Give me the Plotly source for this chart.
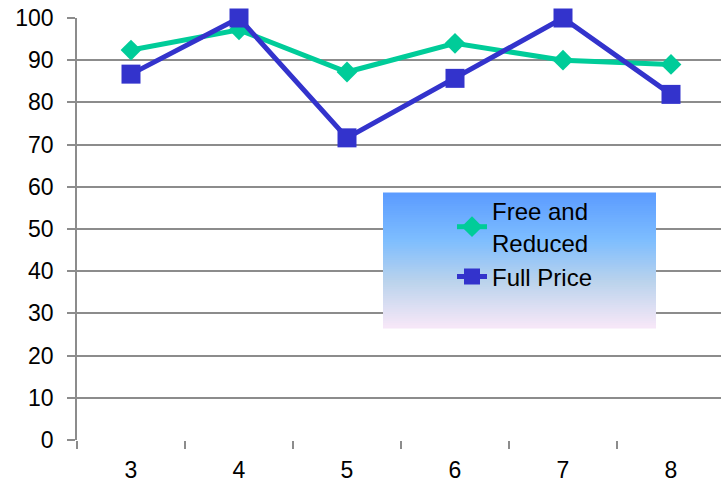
import plotly.graph_objects as go

grades = ["3", "4", "5", "6", "7", "8"]
free_reduced = [92.4, 97.2, 87.2, 94.0, 90.0, 89.0]
full_price = [86.7, 100.0, 71.6, 85.7, 100.0, 81.9]
y_ticks = [0, 10, 20, 30, 40, 50, 60, 70, 80, 90, 100]

FONT = "Liberation Sans, Arial, sans-serif"
GRID = "#8c8c8c"

fig = go.Figure()
fig.add_trace(go.Scatter(
    x=grades, y=free_reduced, name="Free and<br>Reduced", mode="lines+markers",
    line=dict(color="#00CC99", width=5), cliponaxis=False,
    marker=dict(symbol="diamond", size=16, color="#00CC99"),
))
fig.add_trace(go.Scatter(
    x=grades, y=full_price, name="Full Price", mode="lines+markers",
    line=dict(color="#3333CC", width=5), cliponaxis=False,
    marker=dict(symbol="square", size=19, color="#3333CC"),
))

# gradient legend background (stacked bands)
stops = [(0.0, (91, 155, 255)), (0.35, (125, 189, 255)), (0.65, (184, 210, 236)), (1.0, (248, 232, 248))]
def col(t):
    for (t0, c0), (t1, c1) in zip(stops[:-1], stops[1:]):
        if t0 <= t <= t1:
            f = (t - t0) / (t1 - t0) if t1 > t0 else 0
            return "rgb(%d,%d,%d)" % tuple(round(a + (b - a) * f) for a, b in zip(c0, c1))
    return "rgb(248,232,248)"

lx0, lx1 = (383 - 77) / 644, (656 - 77) / 644
ly_top, ly_bot = (440 - 193) / 422, (440 - 328) / 422
n = 60
shapes = []
for i in range(n):
    t = (i + 0.5) / n
    y1 = ly_top - (ly_top - ly_bot) * i / n
    y0 = ly_top - (ly_top - ly_bot) * (i + 1) / n
    shapes.append(dict(type="rect", xref="paper", yref="paper", x0=lx0, x1=lx1,
                       y0=y0 - 0.001, y1=y1 + 0.001, fillcolor=col(t), line=dict(width=0),
                       layer="above"))

fig.update_layout(
    width=721, height=483,
    margin=dict(l=77, r=0, t=18, b=43),
    paper_bgcolor="white", plot_bgcolor="white",
    font=dict(family=FONT, size=23, color="black"),
    shapes=shapes,
    showlegend=True,
    legend=dict(x=(452 - 77) / 644, y=(440 - 189) / 422, xanchor="left", yanchor="top",
                bgcolor="rgba(0,0,0,0)", borderwidth=0,
                font=dict(family=FONT, size=24, color="black"),
                tracegroupgap=0, itemwidth=30),
    xaxis=dict(type="category", range=[-0.5, 5.463], showgrid=False, automargin=False,
               ticks="outside", tickson="boundaries", ticklen=8, tickcolor=GRID, tickwidth=1.5,
               showline=False, zeroline=False, ticklabelstandoff=14,
               tickfont=dict(family=FONT, size=23, color="black")),
    yaxis=dict(range=[0, 100], tickvals=y_ticks, showgrid=True, gridcolor=GRID, gridwidth=1.5,
               automargin=False,
               ticks="outside", ticklen=8, tickcolor=GRID, tickwidth=1.5,
               showline=True, linecolor=GRID, linewidth=1.5, zeroline=False,
               ticklabelstandoff=9,
               tickfont=dict(family=FONT, size=23, color="black")),
)

fig.write_html("out.html", config={"displayModeBar": False},
               post_script="document.body.style.margin='0';document.body.style.overflow='hidden';")
